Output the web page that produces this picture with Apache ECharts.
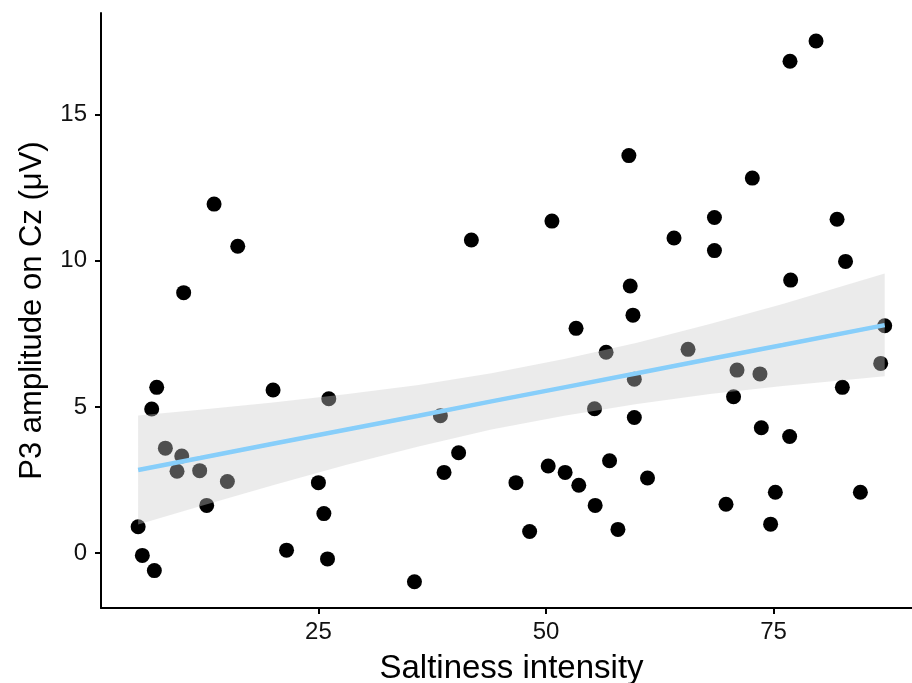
<!DOCTYPE html>
<html>
<head>
<meta charset="UTF-8">
<title>P3 amplitude vs saltiness</title>
<script src="https://cdn.jsdelivr.net/npm/echarts@6/dist/echarts.min.js"></script>
<style>
  html, body { margin: 0; padding: 0; background: #fff; }
  #chart { width: 912px; height: 683px; }
</style>
</head>
<body>
<div id="chart"></div>
<script>
// points: [saltiness, P3 amplitude]
var points = [
  [5.2, 0.9], [5.66, -0.08], [6.98, -0.6], [6.69, 4.93], [7.24, 5.67],
  [8.19, 3.59], [9.99, 3.32], [9.47, 2.8], [11.96, 2.82], [15.0, 2.45],
  [12.73, 1.63], [20.02, 5.58], [21.5, 0.1], [25.0, 2.41], [13.54, 11.94],
  [16.14, 10.5], [10.2, 8.91], [25.6, 1.35], [26.0, -0.2], [26.14, 5.28],
  [35.55, -0.98], [38.4, 4.7], [38.8, 2.76], [40.4, 3.43], [46.7, 2.41],
  [48.2, 0.74], [50.24, 2.98], [52.1, 2.76], [53.6, 2.32], [55.4, 1.63],
  [56.98, 3.16], [57.9, 0.81], [53.3, 7.69], [56.6, 6.87], [55.33, 4.94],
  [41.8, 10.71], [50.65, 11.36], [79.66, 17.52], [76.8, 16.83], [59.1, 13.6],
  [72.66, 12.83], [68.5, 11.48], [81.97, 11.42], [64.06, 10.78], [68.5, 10.35],
  [82.9, 9.98], [59.25, 9.14], [76.87, 9.34], [59.55, 8.14], [65.6, 6.97],
  [59.7, 5.95], [70.98, 6.26], [73.5, 6.13], [70.6, 5.35], [59.7, 4.64],
  [87.2, 7.78], [86.76, 6.49], [82.55, 5.67], [73.65, 4.29], [76.76, 3.99],
  [61.15, 2.57], [69.77, 1.67], [75.19, 2.08], [84.53, 2.08], [74.67, 0.99]
];

// fitted line and confidence band, read at these x positions
var bandX     = [5.2, 12, 20, 28, 36, 44, 52, 60, 68, 76, 87.2];
var fitY      = [2.84, 3.25, 3.74, 4.22, 4.70, 5.19, 5.67, 6.15, 6.64, 7.12, 7.80];
var bandUpper = [4.71, 4.90, 5.15, 5.43, 5.75, 6.15, 6.64, 7.20, 7.84, 8.52, 9.57];
var bandLower = [0.98, 1.60, 2.32, 3.01, 3.65, 4.23, 4.70, 5.10, 5.44, 5.72, 6.05];

var xTicks = [25, 50, 75];
var yTicks = [0, 5, 10, 15];

var font = 'Liberation Sans, Arial, sans-serif';
var chart = echarts.init(document.getElementById('chart'));

var fitLine = bandX.map(function (x, i) { return [x, fitY[i]]; });

chart.setOption({
  animation: false,
  grid: { left: 101, right: 0, top: 13, bottom: 75, outerBoundsMode: 'none', containLabel: false },
  xAxis: {
    type: 'value',
    min: 1.12, max: 90.2,
    name: 'Saltiness intensity',
    nameLocation: 'middle',
    nameGap: 44,
    nameTextStyle: { fontFamily: font, fontSize: 33, color: '#000', padding: [0, 0, 0, 10] },
    axisLine: { onZero: false, lineStyle: { color: '#000', width: 2 } },
    axisTick: { show: true, length: 6, lineStyle: { color: '#000', width: 2 }, customValues: xTicks },
    axisLabel: { fontFamily: font, fontSize: 24, color: '#111', margin: 12, customValues: xTicks },
    splitLine: { show: false }
  },
  yAxis: {
    type: 'value',
    min: -1.88, max: 18.48,
    name: 'P3 amplitude on Cz (\u03bcV)',
    nameLocation: 'middle',
    nameGap: 53,
    nameTextStyle: { fontFamily: font, fontSize: 31, color: '#000' },
    axisLine: { show: true, onZero: false, lineStyle: { color: '#000', width: 2 } },
    axisTick: { show: true, length: 6, lineStyle: { color: '#000', width: 2 }, customValues: yTicks },
    axisLabel: { fontFamily: font, fontSize: 24, color: '#111', margin: 14, customValues: yTicks },
    splitLine: { show: false }
  },
  series: [
    {
      type: 'scatter',
      data: points,
      symbolSize: 15,
      itemStyle: { color: '#000', opacity: 1 },
      z: 2
    },
    {
      type: 'custom',
      data: [0],
      z: 3,
      silent: true,
      renderItem: function (params, api) {
        var pts = [];
        for (var i = 0; i < bandX.length; i++) pts.push(api.coord([bandX[i], bandUpper[i]]));
        for (var j = bandX.length - 1; j >= 0; j--) pts.push(api.coord([bandX[j], bandLower[j]]));
        return {
          type: 'polygon',
          shape: { points: pts },
          style: { fill: 'rgba(204,204,204,0.39)', stroke: null }
        };
      }
    },
    {
      type: 'line',
      data: fitLine,
      symbol: 'none',
      lineStyle: { color: '#87CEFA', width: 4.5 },
      z: 4
    }
  ]
});
</script>
</body>
</html>
